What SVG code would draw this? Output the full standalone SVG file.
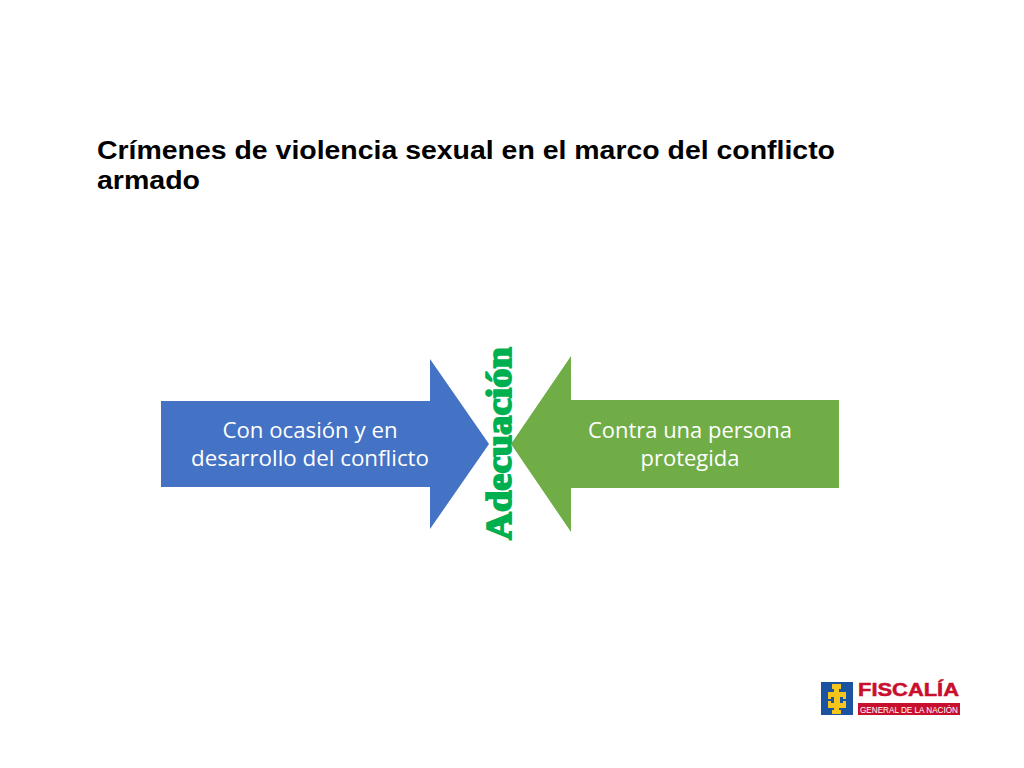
<svg xmlns="http://www.w3.org/2000/svg" width="1024" height="768" viewBox="0 0 1024 768">
<style>
.title{font:bold 26.500px "Liberation Sans",Arial,sans-serif;fill:#000}
.lbl{font:22px "Open Sans","Noto Sans",sans-serif;fill:#fff;text-anchor:middle}
</style>
<rect width="1024" height="768" fill="#fff"/>
<g id="title"><text class="title" x="97" y="159" textLength="738" lengthAdjust="spacingAndGlyphs">Crímenes de violencia sexual en el marco del conflicto</text>
<text class="title" x="97" y="189" textLength="103" lengthAdjust="spacingAndGlyphs">armado</text></g>
<g id="arrow-left">
<polygon points="161,401 430,401 430,359 489,444 430,529 430,487 161,487" fill="#4472c4"/>
<text class="lbl" x="310" y="437.500" textLength="175" lengthAdjust="spacingAndGlyphs">Con ocasión y en</text>
<text class="lbl" x="310" y="465.500" textLength="238" lengthAdjust="spacingAndGlyphs">desarrollo del conflicto</text>
</g>
<g id="arrow-right">
<polygon points="839,400 571,400 571,356 511,444 571,532 571,488 839,488" fill="#70ad47"/>
<text class="lbl" x="690" y="437.500" textLength="204" lengthAdjust="spacingAndGlyphs">Contra una persona</text>
<text class="lbl" x="690" y="465.500" textLength="99" lengthAdjust="spacingAndGlyphs">protegida</text>
</g>
<g id="adecuacion"><text transform="translate(511,540) rotate(-90)" x="0" y="0" textLength="193" lengthAdjust="spacingAndGlyphs" style="font:900 36px 'Liberation Serif','Times New Roman',serif;fill:#00b050;stroke:#00b050;stroke-width:1.800">Adecuación</text></g>
<g id="logo">
<rect x="821" y="682" width="32" height="33" fill="#1a54a0"/>
<path d="M832 684h9v5h-2v3h7v7h-3v-2h-3v6h3v-2h3v7h-7v2h2v4h-9v-4h2v-2h-6v-7h3v2h3v-6h-3v2h-3v-7h6v-3h-2z" fill="#f6c51b"/>
<text x="858" y="696" textLength="101" lengthAdjust="spacingAndGlyphs" style="font:bold 18px 'Liberation Sans',Arial,sans-serif;fill:#c8102e;stroke:#c8102e;stroke-width:.5">FISCALÍA</text>
<rect x="858" y="703" width="102" height="12" fill="#c8102e"/>
<text x="860" y="712.500" textLength="98" lengthAdjust="spacingAndGlyphs" style="font:9px 'Liberation Sans',Arial,sans-serif;fill:#fff">GENERAL DE LA NACIÓN</text>
</g>
</svg>
